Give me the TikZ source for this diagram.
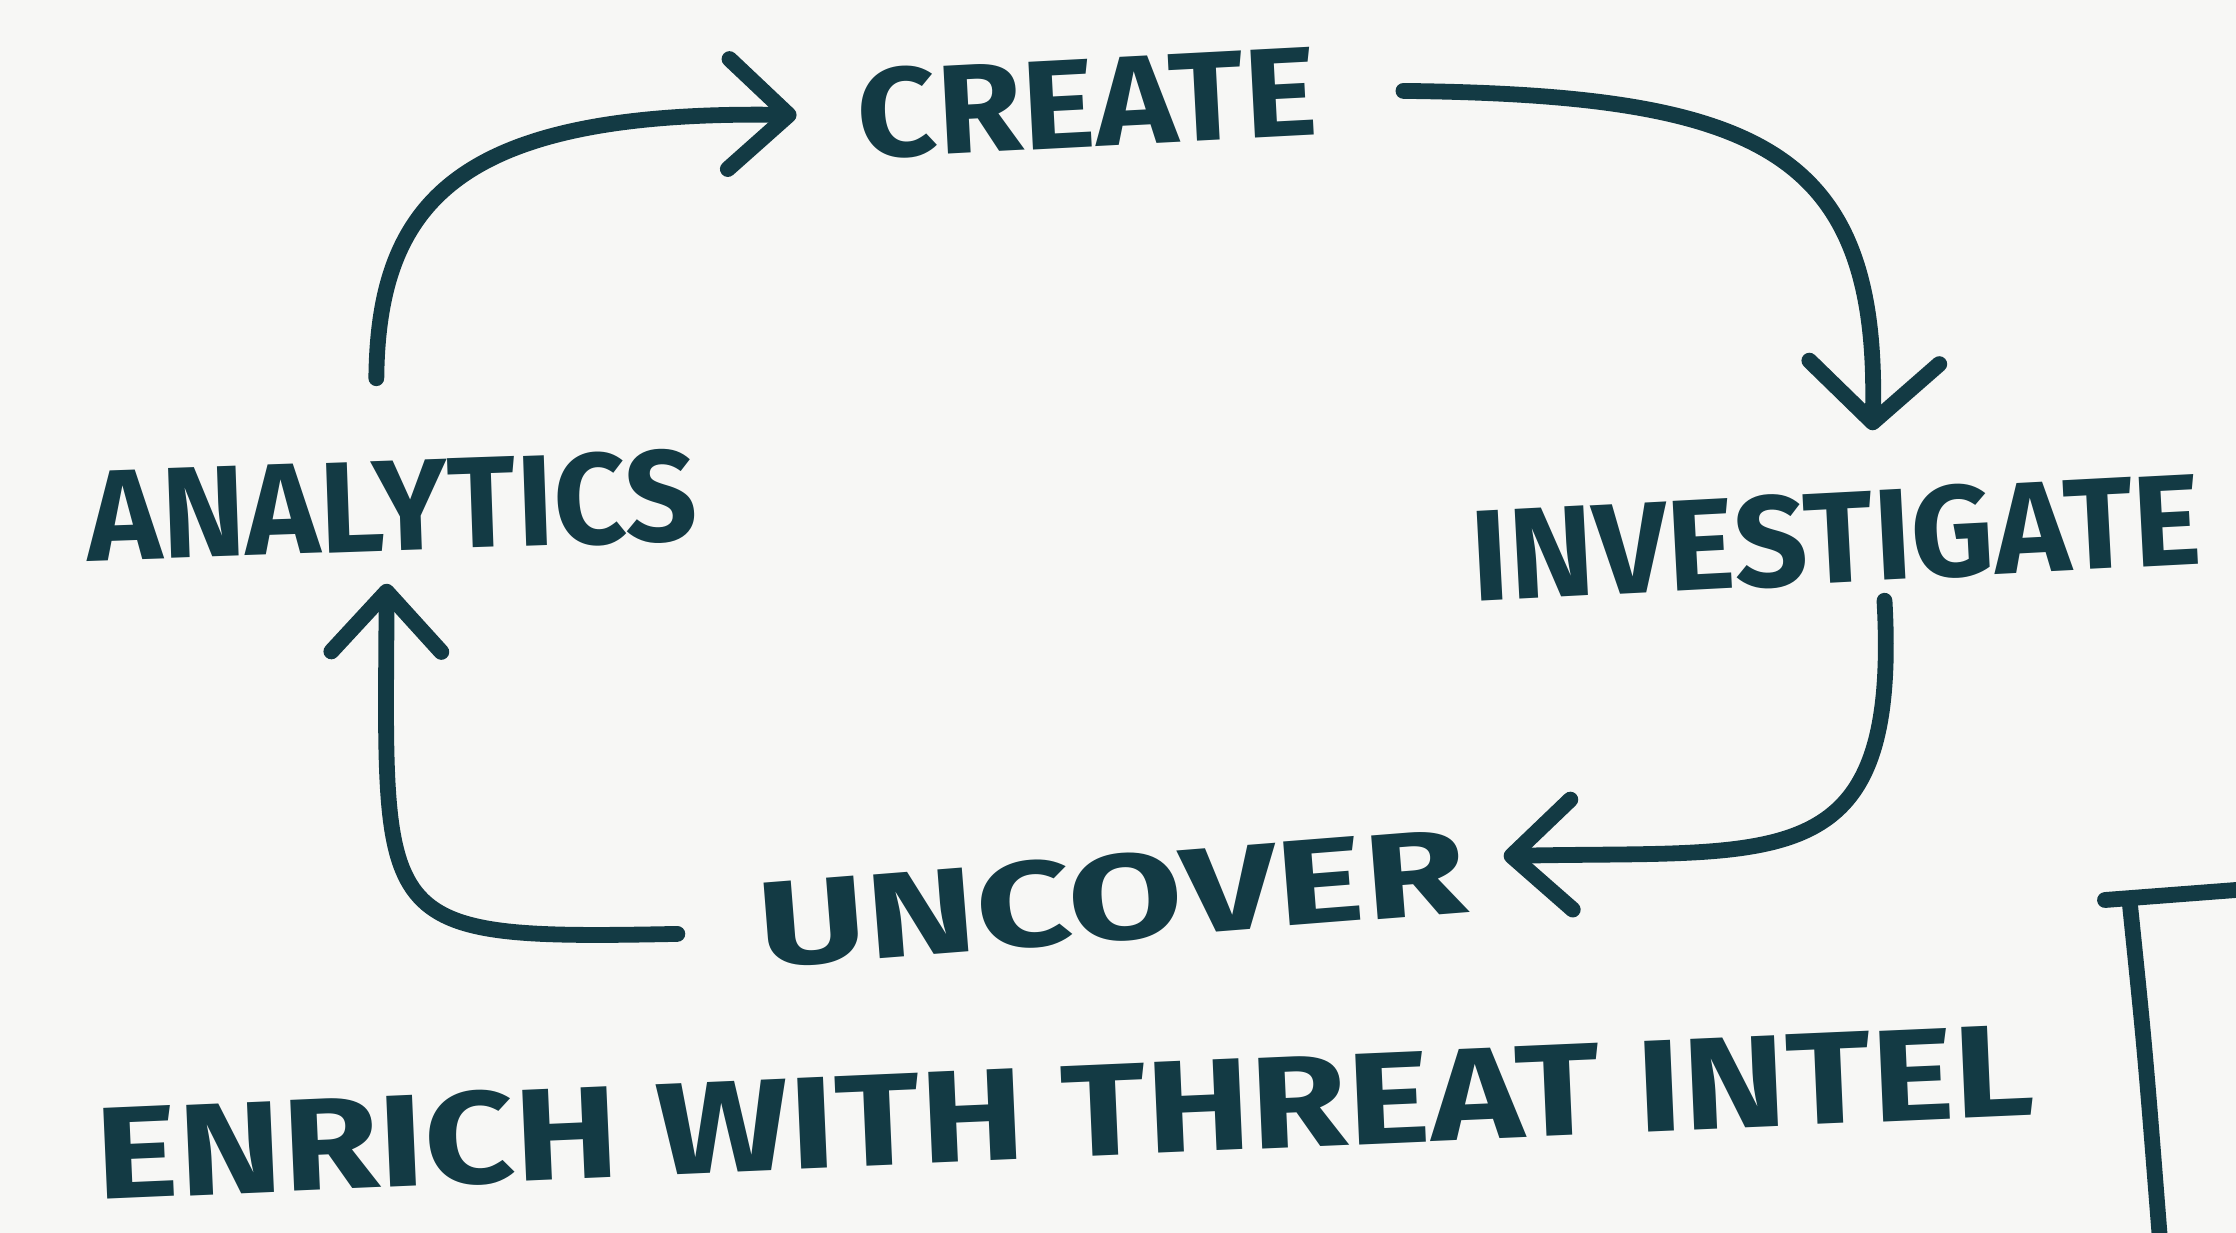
\documentclass[tikz,border=0pt]{standalone}
\usepackage{fontspec}
\setmainfont{Fira Sans}
\usepackage{graphicx}
\usetikzlibrary{arrows.meta,positioning}
\definecolor{Ink}{HTML}{133A44}
\definecolor{Paper}{HTML}{F7F7F5}
\newcommand{\hand}[3]{\resizebox{#1}{#2}{\bfseries #3}}

\begin{document}
\begin{tikzpicture}[
    word/.style={text=Ink, inner sep=0pt},
    flow/.style={draw=Ink, line width=4.5pt, line cap=round, -{Straight Barb[length=6mm,width=11mm,round]}}
  ]
        % the paper
        \fill[Paper] (0,0) rectangle (22.36,-12.33);
        \useasboundingbox (0,0) rectangle (22.36,-12.33);

        % Draw the four steps
        \node[word, rotate=3] (create) at (10.87,-1.03) {\hand{4.6cm}{0.9cm}{CREATE}};
        \node[word, rotate=2] (analytics) at (3.92,-5.06) {\hand{6.1cm}{0.92cm}{ANALYTICS}};
        \node[word, rotate=3] (investigate) at (18.36,-5.38) {\hand{7.3cm}{0.92cm}{INVESTIGATE}};
        \node[word, rotate=4.5] (uncover) at (11.12,-8.98) {\hand{7.1cm}{0.86cm}{UNCOVER}};

        % the note below
        \node[word, rotate=2.5] (enrich) at (10.65,-11.12) {\hand{19.4cm}{0.93cm}{ENRICH WITH THREAT INTEL}};

        % Draw the cycle
        \draw[flow] ([xshift=-1.4mm,yshift=8mm]analytics.north)
            .. controls (3.78,-2.0) and (4.6,-1.1) .. ([xshift=-6mm]create.west);
        \draw[flow, -{Straight Barb[length=6mm,width=13mm,round]}] ([xshift=8.6mm]create.east)
            .. controls (17.6,-0.95) and (18.8,-1.5) .. ([xshift=3.9mm,yshift=6mm]investigate.north);
        \draw[flow] ([xshift=4.6mm,yshift=-1.5mm]investigate.south)
            .. controls (19.0,-8.8) and (17.8,-8.5) .. ([xshift=3.7mm,yshift=1.4mm]uncover.east);
        \draw[flow] ([xshift=-8mm,yshift=-0.8mm]uncover.west)
            .. controls (3.7,-9.4) and (3.85,-9.3) .. ([xshift=-0.7mm,yshift=-3mm]analytics.south);

        % the corner lines at the right
        \draw[Ink, line width=4.5pt, line cap=round] (21.05,-9.0) -- (22.36,-8.9);
        \draw[Ink, line width=4.5pt, line cap=round] (21.3,-9.05) .. controls (21.45,-10.5) .. (21.6,-12.4);
\end{tikzpicture}
\end{document}
